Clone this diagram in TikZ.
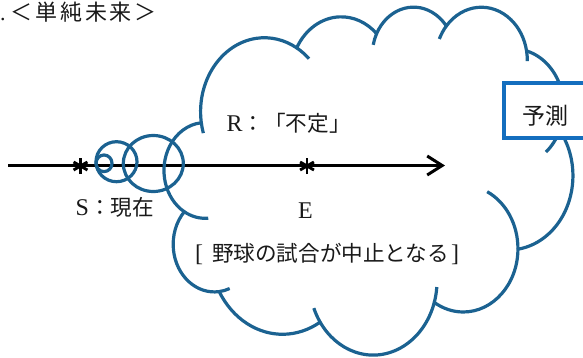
\documentclass[tikz,border=0pt]{standalone}
\usepackage{fontspec}
\setmainfont{Liberation Serif}
\newfontfamily\jp{Noto Sans CJK JP}
\usetikzlibrary{arrows.meta}
\definecolor{cloudblue}{RGB}{27,98,145}
\definecolor{boxblue}{RGB}{20,110,190}
\definecolor{inkc}{RGB}{25,25,25}
\newcommand\latn[1]{{\fontsize{24}{28}\selectfont #1}}
\newcommand\hg{\hspace{2.8pt}}
\begin{document}
\begin{tikzpicture}[x=1pt,y=-1pt,
  cloud/.style={draw=cloudblue, line width=3.2pt, line join=round},
  txt/.style={inner sep=0pt, text=inkc, font=\fontsize{21.6}{26}\selectfont},
  timeline/.style={draw=black, line width=3pt},
  starline/.style={draw=black, line width=2.9pt},
  predbox/.style={draw=boxblue, line width=4pt, fill=white}]
\useasboundingbox (0,0) rectangle (583,357);

% time line
\coordinate (L) at (8,165.5);
\coordinate (T) at (445,165.5);
\draw[timeline, -{Straight Barb[length=15pt,width=19pt]}] (L) -- (T);

% cloud (office cloud geometry)
\begin{scope}[shift={(164.3pt,-6pt)}, x=0.09455pt, y=-0.0805pt]
\coordinate (b1) at (1059.1,1313.0);
\coordinate (b2) at (1871.5,861.1);
\coordinate (b3) at (2636.2,608.6);
\coordinate (b4) at (3353.8,674.6);
\coordinate (b5) at (3691.7,1259.5);
\coordinate (b6) at (3644.6,2107.8);
\coordinate (b7) at (3162.0,3014.2);
\coordinate (b8) at (2209.5,3414.6);
\coordinate (b9) at (1250.4,3023.3);
\coordinate (b10) at (529.8,2959.8);
\coordinate (b11) at (431.0,2042.5);
\draw[cloud]
  ([shift={(172.25:675.3 and 919.0)}]b1) arc[start angle=172.25,end angle=300.36,x radius=675.3,y radius=919.0]
  -- ([shift={(-152.02:533.3 and 726.7)}]b2) arc[start angle=-152.02,end angle=-45.46,x radius=533.3,y radius=726.7]
  -- ([shift={(-153.49:436.5 and 594.5)}]b3) arc[start angle=-153.49,end angle=-37.33,x radius=436.5,y radius=594.5]
  -- ([shift={(-139.71:485.7 and 659.5)}]b4) arc[start angle=-139.71,end angle=-10.21,x radius=485.7,y radius=659.5]
  -- ([shift={(-74.77:533.3 and 727.3)}]b5) arc[start angle=-74.77,end angle=23.21,x radius=533.3,y radius=727.3]
  -- ([shift={(-37.53:677.5 and 922.0)}]b6) arc[start angle=-37.53,end angle=81.86,x radius=677.5,y radius=922.0]
  -- ([shift={(0.46:578.5 and 786.7)}]b7) arc[start angle=0.46,end angle=121.97,x radius=578.5,y radius=786.7]
  -- ([shift={(16.84:675.2 and 921.5)}]b8) arc[start angle=16.84,end angle=146.22,x radius=675.2,y radius=921.5]
  -- ([shift={(58.98:772.0 and 1054.3)}]b9) arc[start angle=58.98,end angle=150.18,x radius=772.0,y radius=1054.3]
  -- ([shift={(83.31:436.0 and 591.8)}]b10) arc[start angle=83.31,end angle=223.10,x radius=436.0,y radius=591.8]
  -- ([shift={(120.36:434.5 and 594.5)}]b11) arc[start angle=120.36,end angle=264.11,x radius=434.5,y radius=594.5]
  -- cycle;
% inner cusps
\draw[cloud] ([shift={(85.55:434.5 and 594.5)}]b11) arc[start angle=85.55,end angle=120.36,x radius=434.5,y radius=594.5];
\draw[cloud] ([shift={(68.23:436.0 and 591.8)}]b10) arc[start angle=68.23,end angle=83.31,x radius=436.0,y radius=591.8];
\draw[cloud] ([shift={(146.22:675.2 and 921.5)}]b8) arc[start angle=146.22,end angle=158.47,x radius=675.2,y radius=921.5];
\draw[cloud] ([shift={(4.74:675.2 and 921.5)}]b8) arc[start angle=4.74,end angle=16.84,x radius=675.2,y radius=921.5];
\draw[cloud] ([shift={(-64.03:578.5 and 786.7)}]b7) arc[start angle=-64.03,end angle=0.46,x radius=578.5,y radius=786.7];
\draw[cloud] ([shift={(23.21:533.3 and 727.3)}]b5) arc[start angle=23.21,end angle=49.64,x radius=533.3,y radius=727.3];
\draw[cloud] ([shift={(-10.21:485.7 and 659.5)}]b4) arc[start angle=-10.21,end angle=0.82,x radius=485.7,y radius=659.5];
\draw[cloud] ([shift={(-156.29:485.7 and 659.5)}]b4) arc[start angle=-156.29,end angle=-139.71,x radius=485.7,y radius=659.5];
\draw[cloud] ([shift={(-167.73:436.5 and 594.5)}]b3) arc[start angle=-167.73,end angle=-153.49,x radius=436.5,y radius=594.5];
\draw[cloud] ([shift={(300.36:675.3 and 919.0)}]b1) arc[start angle=300.36,end angle=314.27,x radius=675.3,y radius=919.0];
\draw[cloud] ([shift={(163.19:675.3 and 919.0)}]b1) arc[start angle=163.19,end angle=172.25,x radius=675.3,y radius=919.0];
\end{scope}

% callout tail bubbles
\draw[cloud] (104,163.3) ellipse [x radius=8, y radius=8.3];
\draw[cloud] (116.5,161.7) ellipse [x radius=20.5, y radius=20];
\draw[cloud] (153.3,163.5) ellipse [x radius=30, y radius=28];

% asterisks
\coordinate (s1) at (80.5,166);
\coordinate (s2) at (307,166);
\foreach \c in {s1,s2}
  \foreach \a in {90,30,150}
    \draw[starline] ([shift={(\a:8)}]\c) -- ([shift={(\a+180:8)}]\c);

% texts
\node[txt, font=\fontsize{22}{26}\selectfont, anchor=base west] (head) at (0,20) {.\hspace{5pt}{\jp ＜\hg 単\hg 純\hg 未\hg 来\hg ＞}};
\node[txt, anchor=base west] (r) at (226.5,131.5) {\latn{R}{\jp ：「不定」}};
\node[txt, anchor=base east] (s) at (154,215) {\latn{S}{\jp ：現在}};
\node[txt, anchor=base] (e) at (305.5,218) {\latn{E}};
\node[txt, anchor=base west] (event) at (195,261.7) {\latn{[}\hspace{9pt}{\jp 野球の試合が中止となる}\hspace{2pt}\latn{]}};

% prediction box
\draw[predbox] (504,82.5) rectangle (600,138);
\node[txt, font=\fontsize{23}{27}\selectfont\jp, anchor=base] (pred) at (545.5,124) {予測};
\end{tikzpicture}
\end{document}
